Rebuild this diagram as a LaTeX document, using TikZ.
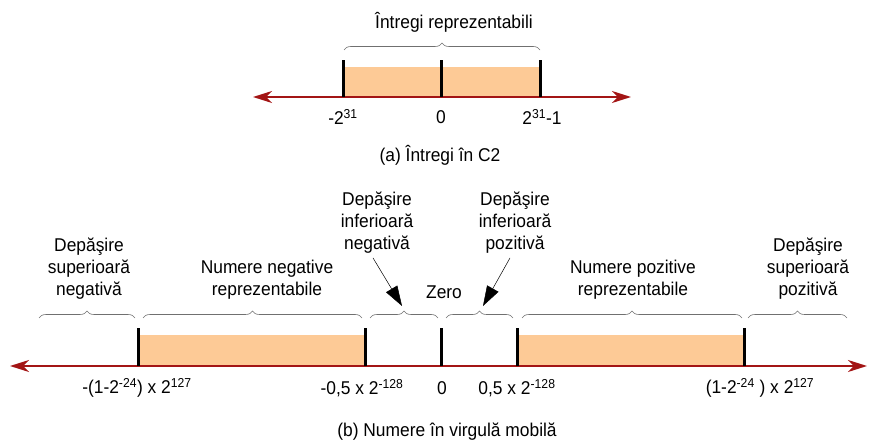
\documentclass[tikz,border=0pt]{standalone}
\usepackage{fontspec}
\setmainfont{Liberation Sans}[FakeStretch=0.94]
\usetikzlibrary{arrows.meta,decorations.pathreplacing}
\definecolor{axisred}{HTML}{A31515}
\definecolor{rangefill}{HTML}{FDCA96}
\definecolor{bracegray}{HTML}{707070}
\tikzset{
  axis/.style={draw=axisred,line width=2pt,{Stealth[length=19pt,width=12pt,inset=6pt]}-{Stealth[length=19pt,width=12pt,inset=6pt]}},
  tickmark/.style={line width=3pt,black},
  band/.style={fill=rangefill,draw=none},
  rangebrace/.style={draw=bracegray,line width=0.6pt,decorate,decoration={brace,amplitude=7pt}},
  lbl/.style={font=\fontsize{18.5}{22}\selectfont,align=center,inner sep=0pt},
  pointer/.style={draw=black,line width=0.5pt,-{Triangle[length=20pt,width=13pt]}}
}
\begin{document}
\begin{tikzpicture}[x=1pt,y=-1pt]
\useasboundingbox (0,0) rectangle (870,446);

% ---------- (a) two's complement integers ----------
\coordinate (aL) at (253,97);
\coordinate (aR) at (631,97);
\coordinate (amin) at (343,97);
\coordinate (azero) at (441,97);
\coordinate (amax) at (540,97);
\fill[band] (343,67) rectangle (540,97);
\draw[axis] (aL) -- (aR);
\draw[tickmark] (amin) -- ++(0,-37);
\draw[tickmark] (azero) -- ++(0,-37);
\draw[tickmark] (amax) -- ++(0,-37);
\coordinate (abl) at (344,50);
\coordinate (abr) at (540,50);
\draw[rangebrace] (abl) -- (abr);
\node[lbl] (atitle) at (454,22) {Întregi reprezentabili};
\node[lbl] (aminl) at (343,117) {-2\textsuperscript{31}};
\node[lbl] (azerol) at (441,117) {0};
\node[lbl] (amaxl) at (542,117) {2\textsuperscript{31}-1};
\node[lbl] (acap) at (440,155) {(a) Întregi în C2};

% ---------- (b) floating-point numbers ----------
\coordinate (bL) at (10,366);
\coordinate (bR) at (867,366);
\coordinate (t1) at (138,366);
\coordinate (t2) at (365,366);
\coordinate (t3) at (441,366);
\coordinate (t4) at (517,366);
\coordinate (t5) at (744,366);
\fill[band] (138,335) rectangle (365,366);
\fill[band] (517,335) rectangle (744,366);
\draw[axis] (bL) -- (bR);
\foreach \t in {t1,t2,t3,t4,t5}
  \draw[tickmark] (\t) -- ++(0,-38);

% braces over each region
\foreach \a/\b in {39/135,143/362,370/438,446/513,522/742,748/847}
  \draw[rangebrace] (\a,318) -- (\b,318);

\node[lbl] (sneg) at (89,269) {Depăşire\\superioară\\negativă};
\node[lbl] (nneg) at (267,280) {Numere negative\\reprezentabile};
\node[lbl] (ineg) at (377,223) {Depăşire\\inferioară\\negativă};
\node[lbl] (zero) at (444,292) {Zero};
\node[lbl] (ipoz) at (515,223) {Depăşire\\inferioară\\pozitivă};
\node[lbl] (npoz) at (633,280) {Numere pozitive\\reprezentabile};
\node[lbl] (spoz) at (808,269) {Depăşire\\superioară\\pozitivă};

\coordinate (inegtip) at (402,306);
\coordinate (ipoztip) at (483,306);
\draw[pointer] (ineg.south -| 373,0) ++(0,4) -- (inegtip);
\draw[pointer] (ipoz.south -| 510,0) ++(0,4) -- (ipoztip);

\node[lbl] (v1) at (137,388) {-(1-2\textsuperscript{-24}) x 2\textsuperscript{127}};
\node[lbl] (v2) at (362,388) {-0,5 x 2\textsuperscript{-128}};
\node[lbl] (v3) at (442,388) {0};
\node[lbl] (v4) at (517,388) {0,5 x 2\textsuperscript{-128}};
\node[lbl] (v5) at (760,388) {(1-2\textsuperscript{-24} ) x 2\textsuperscript{127}};
\node[lbl] (bcap) at (447,432) {(b) Numere în virgulă mobilă};
\end{tikzpicture}
\end{document}
